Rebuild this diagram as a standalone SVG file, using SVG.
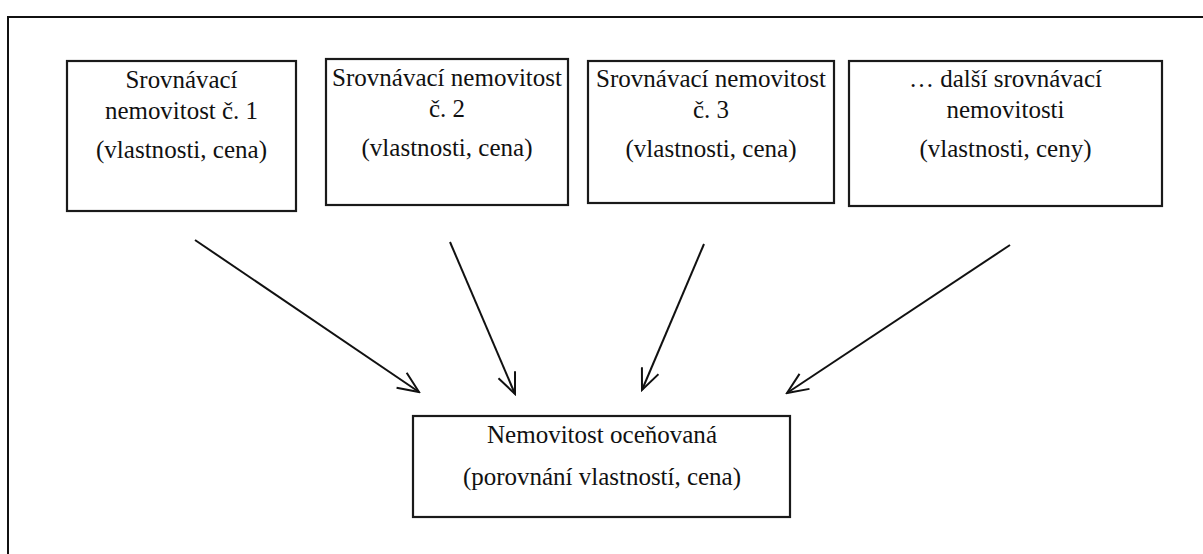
<svg xmlns="http://www.w3.org/2000/svg" width="1203" height="554" viewBox="0 0 1203 554">
<style>
.box{fill:#fff;stroke:#1a1a1a;stroke-width:2.2}
.t{font-family:"Liberation Serif","Tinos","Noto Serif","DejaVu Serif","Times New Roman",Times,serif;font-size:25px;fill:#111;text-anchor:middle}
.c{stroke:#111;stroke-width:2;fill:none}
</style>
<defs>
<marker id="ah" viewBox="0 0 24 20" refX="22" refY="10" markerWidth="24" markerHeight="20" markerUnits="userSpaceOnUse" orient="auto">
<path d="M1,1 L22,10 L1,19" fill="none" stroke="#111" stroke-width="2"/>
</marker>
</defs>
<rect width="1203" height="554" fill="#fff"/>
<rect id="frame" x="8" y="17" width="1210" height="560" fill="none" stroke="#111" stroke-width="2"/>
<g id="n1">
<rect class="box" x="67" y="61" width="229" height="150"/>
<text class="t" font-family="Liberation Serif, DejaVu Serif, serif" x="181.5" y="88" textLength="112" lengthAdjust="spacingAndGlyphs">Srovnávací</text>
<text class="t" font-family="Liberation Serif, DejaVu Serif, serif" x="181.5" y="119" textLength="153" lengthAdjust="spacingAndGlyphs">nemovitost č. 1</text>
<text class="t" font-family="Liberation Serif, DejaVu Serif, serif" x="181.5" y="158" textLength="171" lengthAdjust="spacingAndGlyphs">(vlastnosti, cena)</text>
</g>
<g id="n2">
<rect class="box" x="326" y="59" width="242" height="146"/>
<text class="t" font-family="Liberation Serif, DejaVu Serif, serif" x="447" y="86" textLength="230" lengthAdjust="spacingAndGlyphs">Srovnávací nemovitost</text>
<text class="t" font-family="Liberation Serif, DejaVu Serif, serif" x="447" y="117" textLength="36" lengthAdjust="spacingAndGlyphs">č. 2</text>
<text class="t" font-family="Liberation Serif, DejaVu Serif, serif" x="447" y="156" textLength="171" lengthAdjust="spacingAndGlyphs">(vlastnosti, cena)</text>
</g>
<g id="n3">
<rect class="box" x="588" y="61" width="246" height="142"/>
<text class="t" font-family="Liberation Serif, DejaVu Serif, serif" x="711" y="87" textLength="230" lengthAdjust="spacingAndGlyphs">Srovnávací nemovitost</text>
<text class="t" font-family="Liberation Serif, DejaVu Serif, serif" x="711" y="118" textLength="36" lengthAdjust="spacingAndGlyphs">č. 3</text>
<text class="t" font-family="Liberation Serif, DejaVu Serif, serif" x="711" y="157" textLength="171" lengthAdjust="spacingAndGlyphs">(vlastnosti, cena)</text>
</g>
<g id="n4">
<rect class="box" x="849" y="61" width="313" height="145"/>
<text class="t" font-family="Liberation Serif, DejaVu Serif, serif" x="1005.5" y="87" textLength="193" lengthAdjust="spacingAndGlyphs">… další srovnávací</text>
<text class="t" font-family="Liberation Serif, DejaVu Serif, serif" x="1005.5" y="118" textLength="118" lengthAdjust="spacingAndGlyphs">nemovitosti</text>
<text class="t" font-family="Liberation Serif, DejaVu Serif, serif" x="1005.5" y="157" textLength="172" lengthAdjust="spacingAndGlyphs">(vlastnosti, ceny)</text>
</g>
<g id="target">
<rect class="box" x="413" y="416" width="377" height="101"/>
<text class="t" font-family="Liberation Serif, DejaVu Serif, serif" x="602" y="443" textLength="230" lengthAdjust="spacingAndGlyphs">Nemovitost oceňovaná</text>
<text class="t" font-family="Liberation Serif, DejaVu Serif, serif" x="602" y="485" textLength="278" lengthAdjust="spacingAndGlyphs">(porovnání vlastností, cena)</text>
</g>
<g id="connectors">
<line class="c" x1="195" y1="240" x2="419" y2="392" marker-end="url(#ah)"/>
<line class="c" x1="450" y1="242" x2="515" y2="394" marker-end="url(#ah)"/>
<line class="c" x1="704" y1="244" x2="642" y2="390" marker-end="url(#ah)"/>
<line class="c" x1="1010" y1="245" x2="787" y2="393" marker-end="url(#ah)"/>
</g>
</svg>
